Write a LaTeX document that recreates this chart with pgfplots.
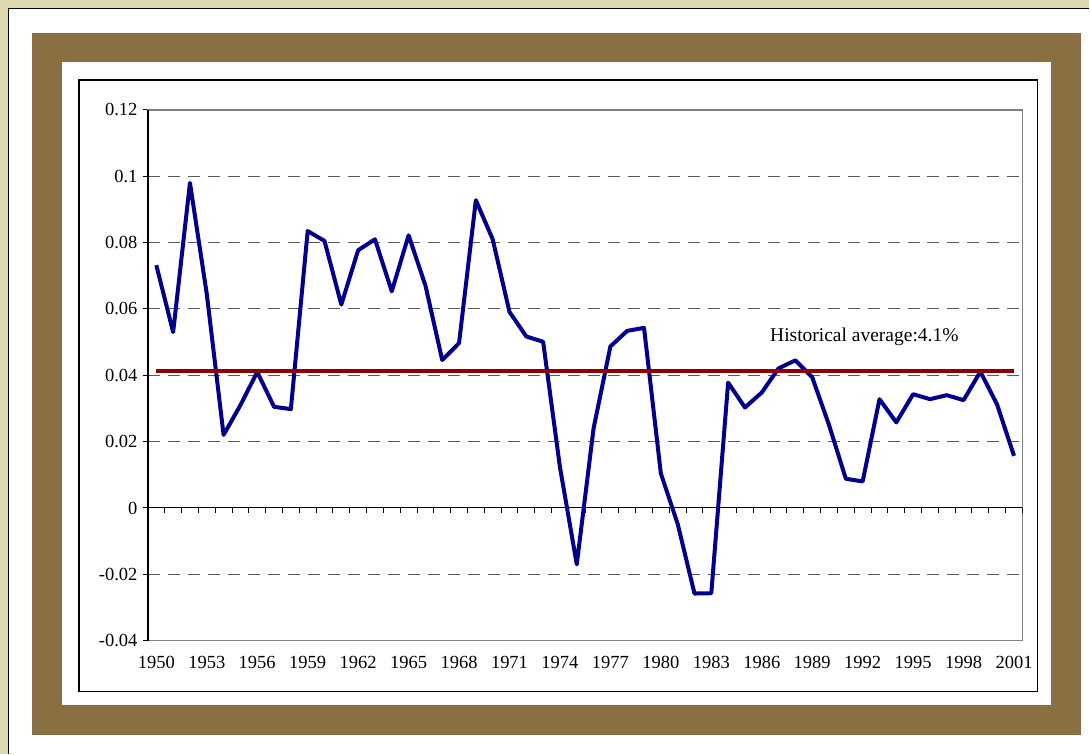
\documentclass[border=0pt]{standalone}
\usepackage{pgfplots}
\pgfplotsset{compat=1.18}
\usepackage{fontspec}
\setmainfont{Liberation Serif}
\definecolor{bgbeige}{RGB}{221,216,176}
\definecolor{framebrown}{RGB}{138,111,66}
\definecolor{serieblue}{RGB}{0,0,140}
\definecolor{avgred}{RGB}{140,0,0}
\definecolor{gridgray}{RGB}{90,90,90}
\begin{document}
\begin{tikzpicture}[x=1pt,y=1pt]
% background and frame
\fill[bgbeige] (0,0) rectangle (1090,754);
\fill[white] (8.5,0) rectangle (1090,745.5);
\draw[black,line width=1.2pt] (8.5,0) -- (8.5,745.5) -- (1090,745.5);
\fill[framebrown] (32,19) rectangle (1082,721);
\fill[white] (62,49) rectangle (1052,692);
\draw[black,line width=1.2pt] (79,62) rectangle (1038,674);
\begin{axis}[
  at={(148pt,113pt)}, anchor=south west,
  width=875pt, height=531pt, scale only axis,
  xmin=1949.5, xmax=2001.5, ymin=-0.04, ymax=0.12,
  xtick={1950,1953,1956,1959,1962,1965,1968,1971,1974,1977,1980,1983,1986,1989,1992,1995,1998,2001},
  xticklabels={1950,1953,1956,1959,1962,1965,1968,1971,1974,1977,1980,1983,1986,1989,1992,1995,1998,2001},
  ytick={-0.04,-0.02,0,0.02,0.04,0.06,0.08,0.1,0.12},
  yticklabels={-0.04,-0.02,0,0.02,0.04,0.06,0.08,0.1,0.12},
  x tick style={draw=none},
  ytick pos=left, tick align=outside, major tick length=5pt,
  y tick style={black,line width=1pt},
  axis line style={draw=gray,line width=1.2pt},
  ymajorgrids,
  grid style={gridgray,line width=1pt,dash pattern=on 12pt off 8pt},
  tick label style={font=\fontsize{18.5}{21}\selectfont},
  /pgf/number format/assume math mode=true,
  xticklabel style={anchor=north,yshift=-7pt},
  yticklabel style={anchor=east,xshift=-2pt},
  clip=false,
]
\draw[black,line width=1.2pt] (axis cs:1949.5,-0.04) -- (axis cs:1949.5,0.12);
\draw[black,line width=1pt] (axis cs:1949.5,0) -- (axis cs:2001.5,0);
\foreach \x in {1949.5,1950.5,...,2001.5} {
  \edef\temp{\noexpand\draw[black,line width=1pt] (axis cs:\x,0) -- ++(0pt,-5pt);}
  \temp
}
\addplot[serieblue, line width=4pt, line join=round, mark=none] coordinates {
(1950,0.0732) (1951,0.0530) (1952,0.0980) (1953,0.0645) (1954,0.0220)
(1955,0.0310) (1956,0.0410) (1957,0.0305) (1958,0.0298) (1959,0.0835)
(1960,0.0805) (1961,0.0613) (1962,0.0777) (1963,0.0810) (1964,0.0653)
(1965,0.0822) (1966,0.0671) (1967,0.0446) (1968,0.0497) (1969,0.0928)
(1970,0.0810) (1971,0.0591) (1972,0.0517) (1973,0.0501) (1974,0.0123)
(1975,-0.0170) (1976,0.0240) (1977,0.0487) (1978,0.0534) (1979,0.0543)
(1980,0.0104) (1981,-0.0048) (1982,-0.0258) (1983,-0.0257) (1984,0.0378)
(1985,0.0303) (1986,0.0348) (1987,0.0421) (1988,0.0445) (1989,0.0394)
(1990,0.0250) (1991,0.0088) (1992,0.0080) (1993,0.0328) (1994,0.0258)
(1995,0.0343) (1996,0.0328) (1997,0.0340) (1998,0.0325) (1999,0.0411)
(2000,0.0311) (2001,0.0157)
};
\addplot[avgred, line width=4pt, mark=none] coordinates {(1950,0.0412) (2001,0.0412)};
\node[font=\fontsize{19.5}{22}\selectfont] at (axis cs:1992.1,0.0515) {Historical average:4.1\%};
\end{axis}
\end{tikzpicture}
\end{document}
